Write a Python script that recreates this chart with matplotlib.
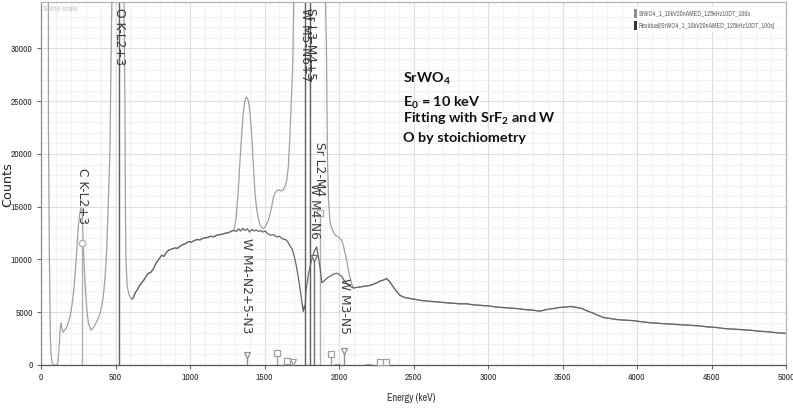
import matplotlib
matplotlib.use('Agg')
import matplotlib.pyplot as plt
from matplotlib.ticker import MultipleLocator
from matplotlib.patches import Patch

plt.rcParams['mathtext.fontset'] = 'custom'
plt.rcParams['mathtext.rm'] = 'Lato:bold'
plt.rcParams['mathtext.default'] = 'rm'

NARROW = ['Liberation Sans Narrow', 'Archivo Narrow', 'DejaVu Sans']

# ---------------- data (energy in eV, counts) ----------------
# spectrum-only low-energy part (C and O peaks)
low_energy = [48, 49, 50, 56, 60, 63, 68, 75, 85, 100, 112, 118, 124, 130, 135, 141, 148,
              158, 170, 183, 195, 206, 218, 228, 240, 250, 262, 270, 276, 284, 295, 306,
              318, 335, 350, 362, 380, 396, 410, 418, 430, 441, 452, 463, 470, 477, 490,
              525, 550, 557, 564, 566, 570, 578, 590, 600]
low_counts = [200000, 60000, 22500, 10500, 5500, 2500, 900, 250, 0, 0, 100, 900, 2300, 3600,
              4000, 3400, 3100, 3300, 3500, 4000, 4600, 5500, 6800, 8400, 10800, 13100, 14500,
              14900, 14700, 11200, 7800, 5500, 4000, 3300, 3500, 3800, 4300, 4900, 5700, 6500,
              8300, 10900, 15600, 20400, 28900, 36000, 60000, 95000, 50000, 34000, 24000,
              15600, 10000, 7500, 6700, 6400]

# bremsstrahlung shared by spectrum and residual
brems_energy = [610, 620, 631, 645, 660, 676, 690, 705, 720, 735, 754, 770, 790, 810, 825,
                843, 860, 880, 900, 915, 933, 950, 970, 990, 1010, 1030, 1050, 1067, 1085,
                1100, 1120, 1140, 1160, 1179, 1200, 1220, 1240, 1260, 1280, 1295]
brems_counts = [6250, 6400, 6800, 7100, 7500, 7800, 8050, 8400, 8700, 8750, 9100, 9600,
                10000, 10400, 10300, 10700, 10900, 11000, 11100, 11050, 11250, 11400, 11500,
                11700, 11650, 11800, 11900, 11850, 12000, 12050, 12100, 12200, 12150, 12300,
                12350, 12400, 12500, 12550, 12700, 12750]

# spectrum-only peak region (W M, Sr L)
peak_energy = [1310, 1324, 1336, 1347, 1358, 1369, 1380, 1391, 1402, 1414, 1425, 1436, 1448,
               1460, 1470, 1482, 1492, 1505, 1515, 1526, 1537, 1548, 1560, 1570, 1582, 1593,
               1610, 1626, 1640, 1649, 1660, 1671, 1680, 1689, 1698, 1720, 1775, 1806, 1850,
               1880, 1905, 1916, 1922, 1930, 1940, 1955, 1975, 1990, 2005, 2018, 2030, 2042,
               2052, 2063, 2074, 2085, 2096]
peak_counts = [14000, 16500, 19500, 21900, 24000, 25100, 25400, 25100, 24000, 21900, 19000,
               16300, 14700, 13800, 13300, 13000, 12900, 13100, 13400, 13700, 14300, 15000,
               15900, 16300, 16500, 16600, 16500, 16600, 17000, 17500, 18800, 21900, 25000,
               28200, 36000, 60000, 90000, 90000, 70000, 50000, 38000, 30000, 20000, 15500,
               13500, 12800, 12300, 12200, 12000, 11800, 11300, 10500, 9900, 9000, 8300,
               7700, 7300]

# residual-only region
resid_energy = [1310, 1325, 1340, 1355, 1370, 1385, 1400, 1415, 1430, 1445, 1460, 1475, 1490,
                1505, 1520, 1540, 1560, 1580, 1600, 1620, 1640, 1655, 1670, 1685, 1700, 1712,
                1725, 1738, 1750, 1760, 1767, 1772, 1779, 1795, 1815, 1835, 1850, 1862, 1872,
                1885, 1895, 1910, 1925, 1940, 1960, 1984, 2000, 2018, 2035, 2052, 2070, 2096]
resid_counts = [12650, 12900, 12700, 12950, 12750, 12900, 12600, 12850, 12700, 12800, 12650,
                12750, 12600, 12700, 12450, 12300, 12350, 12150, 12200, 11950, 11900, 11700,
                11300, 11000, 10300, 9500, 8500, 7300, 6100, 5050, 5600, 5300, 7100, 8600,
                9900, 10800, 11200, 10200, 9300, 7800, 7900, 8100, 8300, 8400, 8600, 8700,
                8600, 8400, 8000, 7700, 7500, 7300]

# high-energy tail shared by both
tail_energy = [2120, 2141, 2165, 2190, 2210, 2230, 2255, 2275, 2298, 2320, 2340, 2364, 2385,
               2409, 2440, 2477, 2520, 2560, 2600, 2633, 2680, 2720, 2770, 2810, 2857, 2900,
               2950, 3003, 3050, 3100, 3150, 3193, 3250, 3300, 3349, 3390, 3438, 3480, 3528,
               3560, 3595, 3630, 3662, 3690, 3707, 3740, 3774, 3820, 3870, 3920, 3976, 4030,
               4090, 4140, 4199, 4260, 4320, 4370, 4423, 4480, 4535, 4590, 4650, 4700, 4758,
               4820, 4880, 4940, 5000]
tail_counts = [7350, 7400, 7450, 7500, 7550, 7650, 7800, 7950, 8050, 8200, 7900, 7400, 7000,
               6600, 6400, 6300, 6200, 6100, 6050, 6000, 5950, 5900, 5850, 5800, 5800, 5700,
               5650, 5600, 5500, 5450, 5400, 5350, 5250, 5200, 5100, 5250, 5350, 5450, 5500,
               5550, 5450, 5350, 5150, 5000, 4900, 4700, 4500, 4400, 4300, 4250, 4200, 4100,
               4000, 3950, 3900, 3850, 3800, 3750, 3700, 3600, 3550, 3450, 3400, 3350, 3300,
               3200, 3150, 3050, 3000]

# KLM line markers: energy, marker height (None = off-scale), label, label top, symbol, colour
mark_energy = [277, 525, 1380, 1775, 1806, 1835, 1871, 2035,
               1584, 1651, 1688, 1946, 1984, 2197, 2275, 2315]
mark_height = [11550, None, 950, None, None, 10100, 14400, 1300,
               1150, 400, 300, 1050, 100, 80, 250, 250]
mark_label = ['C K-L2+3', 'O K-L2+3', 'W M4-N2+5-N3', 'W M5-N6+7', 'Sr L3-M4+5', 'W M4-N6',
              'Sr L2-M4', 'W M3-N5', '', '', '', '', '', '', '', '']
mark_label_top = [18650, 33800, 12000, 33800, 33800, 17200, 21100, 8200,
                  0, 0, 0, 0, 0, 0, 0, 0]
mark_symbol = ['o', None, 'v', None, None, 'v', 's', 'v',
               's', 's', 'v', 's', '_', '_', 's', 's']
mark_color = ['#b0b0b0', '#606060', '#909090', '#606060', '#606060', '#707070', '#b0b0b0',
              '#909090', '#a0a0a0', '#a0a0a0', '#a0a0a0', '#a0a0a0', '#a0a0a0', '#a0a0a0',
              '#a0a0a0', '#a0a0a0']

series_labels = ['SrWO4_1_10kV20nAMED_125kHz10DT_100s',
                 'Residual[SrWO4_1_10kV20nAMED_125kHz10DT_100s]']
xticks = [0, 500, 1000, 1500, 2000, 2500, 3000, 3500, 4000, 4500, 5000]
yticks = [0, 5000, 10000, 15000, 20000, 25000, 30000]

# ---------------- figure ----------------
W, H = 793, 409
fig = plt.figure(figsize=(W / 100, H / 100), dpi=100)
ax = fig.add_axes([41 / W, 1 - 365 / H, (786 - 41) / W, (365 - 2) / H])
ax.set_xlim(0, 5000)
ax.set_ylim(0, 34400)
ax.set_axisbelow(True)

ax.xaxis.set_minor_locator(MultipleLocator(100))
ax.yaxis.set_minor_locator(MultipleLocator(1000))
ax.set_xticks(xticks)
ax.set_xticklabels([str(v) for v in xticks])
ax.set_yticks(yticks)
ax.set_yticklabels([str(v) for v in yticks])
ax.grid(which='major', color='#dedede', lw=0.8)
ax.grid(which='minor', color='#f0f0f0', lw=0.6)
ax.tick_params(which='major', length=3, width=0.8, color='#666666', labelsize=6.8,
               labelcolor='#333333', pad=3)
ax.tick_params(which='minor', length=0)
for lab in ax.get_xticklabels() + ax.get_yticklabels():
    lab.set_family(NARROW)

ax.spines['left'].set_color('#8a8a8a')
ax.spines['bottom'].set_color('#555555')
ax.spines['top'].set_color('#b5b5b5')
ax.spines['right'].set_color('#b5b5b5')
for s in ax.spines.values():
    s.set_linewidth(0.9)

# series
spec_e = low_energy + brems_energy + peak_energy + tail_energy
spec_c = low_counts + brems_counts + peak_counts + tail_counts
res_e = brems_energy + resid_energy + tail_energy
res_c = brems_counts + resid_counts + tail_counts
ax.plot(spec_e, spec_c, color='#a0a0a0', lw=0.9, zorder=3)
ax.plot(res_e, res_c, color='#666666', lw=0.9, zorder=4)

# markers
ymax = ax.get_ylim()[1]
for e, h, lab, top, sym, col in zip(mark_energy, mark_height, mark_label, mark_label_top,
                                     mark_symbol, mark_color):
    hh = ymax if h is None else h
    ax.vlines(e, 0, hh, color=col, lw=1.0, zorder=2)
    if sym is not None and h is not None:
        ax.plot([e], [h], marker=sym, ms=4.5, mfc='white', mec=col, mew=0.9, zorder=5,
                clip_on=False)
    if lab:
        ax.text(e, top, lab, rotation=270, ha='center', va='top', fontsize=8.8,
                color='#3c3c3c', family='DejaVu Sans', zorder=6)

ax.text(0.003, 0.988, 'Same scale', transform=ax.transAxes, fontsize=5.8,
        color='#c4c4c4', va='top', ha='left', family=NARROW)

handles = [Patch(facecolor='#8c8c8c', edgecolor='none'),
           Patch(facecolor='#333333', edgecolor='none')]
leg = ax.legend(handles, series_labels, loc='upper right', bbox_to_anchor=(0.988, 0.985),
                prop={'family': NARROW, 'size': 4.7}, labelcolor='#666666',
                handlelength=0.5, handleheight=1.6, handletextpad=0.25, labelspacing=0.55,
                frameon=True, facecolor='white', edgecolor='none', framealpha=1,
                borderpad=0.3, borderaxespad=0)

# axis titles
fig.text(411 / W, 1 - 398 / H, 'Energy (keV)', ha='center', va='center', fontsize=7.3,
         color='#333333', family=NARROW)
fig.text(8 / W, 1 - 185 / H, 'Counts', ha='center', va='center', rotation=90,
         fontsize=9.2, color='#222222')

# annotation
note_lines = [r'SrWO$_{4}$', r'E$_{0}$ = 10 keV', r'Fitting with SrF$_{2}$ and W',
              'O by stoichiometry']
note_base = [82.7, 106.7, 123.3, 141.7]
for t, yb in zip(note_lines, note_base):
    fig.text(403 / W, 1 - yb / H, t, ha='left', va='baseline', fontsize=10.4,
             family='Lato', weight='bold', color='#111111')

fig.savefig('out.png', dpi=100)
